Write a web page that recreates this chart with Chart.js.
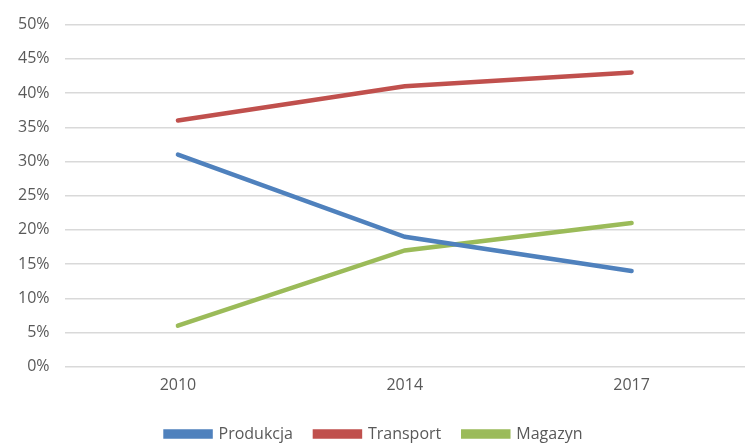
<!DOCTYPE html>
<html>
<head>
<meta charset="utf-8">
<script src="https://cdn.jsdelivr.net/npm/chart.js@4/dist/chart.umd.min.js"></script>
<style>
  html, body { margin: 0; padding: 0; background: #fff; }
  #wrap { width: 745px; height: 444px; }
</style>
</head>
<body>
<div id="wrap"><canvas id="chart"></canvas></div>
<script>
const years = ['2010', '2014', '2017'];
const produkcja = [31, 19, 14];
const transport = [36, 41, 43];
const magazyn = [6, 17, 21];

const font = "'Open Sans', 'DejaVu Sans', sans-serif";

var ctx = document.getElementById("chart").getContext("2d");

var chart = new Chart(ctx, {
    type: "line",
    data: {
        labels: years,
        datasets: [
            { label: 'Produkcja', data: produkcja, borderColor: "#4F81BD", backgroundColor: "#4F81BD" },
            { label: 'Transport', data: transport, borderColor: "#C0504D", backgroundColor: "#C0504D" },
            { label: 'Magazyn', data: magazyn, borderColor: "#9BBB59", backgroundColor: "#9BBB59" }
        ].map(d => Object.assign(d, {
            borderWidth: 4.5,
            pointRadius: 0,
            tension: 0,
            borderCapStyle: 'round',
            fill: false
        }))
    },
    options: {
        responsive: true,
        maintainAspectRatio: false,
        animation: false,
        layout: { padding: { top: 13, right: 0, left: 3, bottom: -8 } },
        plugins: {
            tooltip: { enabled: false },
            legend: {
                position: 'bottom',
                labels: {
                    color: "#595959",
                    font: { family: font, size: 16 },
                    boxWidth: 45,
                    boxHeight: 5,
                    padding: 22
                }
            }
        },
        scales: {
            x: {
                offset: true,
                grid: { display: false, drawTicks: false },
                border: { display: false },
                ticks: { color: "#595959", font: { family: font, size: 16 }, padding: 9 }
            },
            y: {
                min: 0,
                max: 50,
                grid: { color: "#D9D9D9", lineWidth: 1.5, drawTicks: false },
                border: { display: false },
                ticks: {
                    stepSize: 5,
                    color: "#595959",
                    font: { family: font, size: 16 },
                    padding: 15,
                    callback: v => v + '%'
                }
            }
        }
    }
});
</script>
</body>
</html>
